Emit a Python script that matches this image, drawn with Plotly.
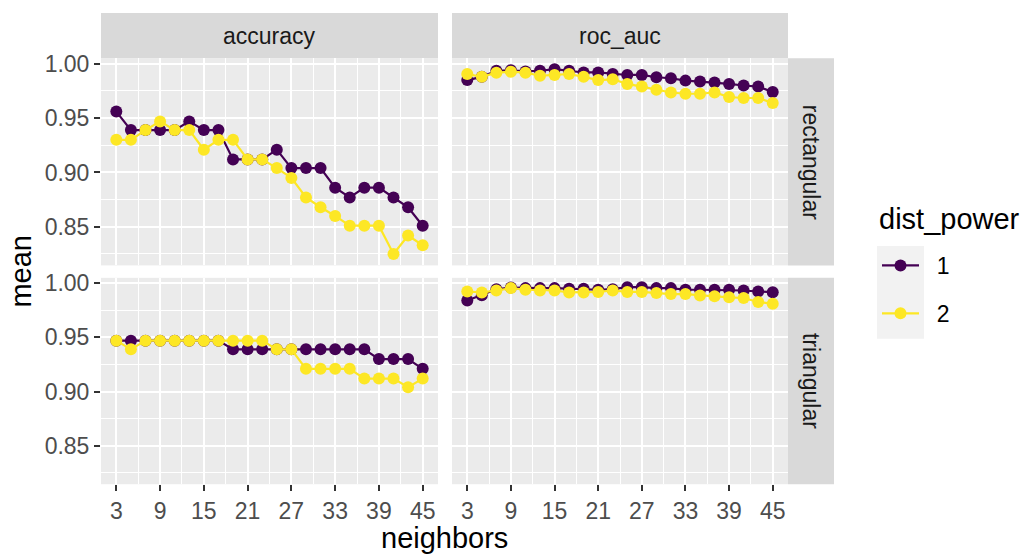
import plotly.graph_objects as go

W, H = 1022, 554

neighbors = [3, 5, 7, 9, 11, 13, 15, 17, 19, 21, 23, 25, 27, 29, 31, 33, 35, 37, 39, 41, 43, 45]

acc_rect_p1 = [0.956, 0.939, 0.939, 0.939, 0.939, 0.947, 0.939, 0.939, 0.912, 0.912, 0.912,
               0.921, 0.904, 0.904, 0.904, 0.886, 0.877, 0.886, 0.886, 0.877, 0.868, 0.851]
acc_rect_p2 = [0.930, 0.930, 0.939, 0.947, 0.939, 0.939, 0.921, 0.930, 0.930, 0.912, 0.912,
               0.904, 0.895, 0.877, 0.868, 0.860, 0.851, 0.851, 0.851, 0.825, 0.842, 0.833]
acc_tri_p1 = [0.947, 0.947, 0.947, 0.947, 0.947, 0.947, 0.947, 0.947, 0.939, 0.939, 0.939,
              0.939, 0.939, 0.939, 0.939, 0.939, 0.939, 0.939, 0.930, 0.930, 0.930, 0.921]
acc_tri_p2 = [0.947, 0.939, 0.947, 0.947, 0.947, 0.947, 0.947, 0.947, 0.947, 0.947, 0.947,
              0.939, 0.939, 0.921, 0.921, 0.921, 0.921, 0.912, 0.912, 0.912, 0.904, 0.912]
roc_rect_p1 = [0.985, 0.988, 0.9936, 0.994, 0.993, 0.9936, 0.995, 0.9936, 0.992, 0.992, 0.9906,
               0.9897, 0.9897, 0.9876, 0.9867, 0.9845, 0.9836, 0.9827, 0.9815, 0.980, 0.979, 0.974]
roc_rect_p2 = [0.9906, 0.988, 0.9918, 0.9927, 0.9918, 0.989, 0.9897, 0.9906, 0.988, 0.985, 0.9857,
               0.9815, 0.979, 0.976, 0.9736, 0.9724, 0.9724, 0.9736, 0.9694, 0.9685, 0.9685, 0.964]
roc_tri_p1 = [0.984, 0.989, 0.9945, 0.996, 0.9955, 0.9955, 0.9955, 0.995, 0.995, 0.994, 0.9945,
              0.9964, 0.9964, 0.9955, 0.9955, 0.994, 0.994, 0.994, 0.994, 0.9933, 0.9924, 0.9918]
roc_tri_p2 = [0.9924, 0.9915, 0.9933, 0.9955, 0.994, 0.9933, 0.9933, 0.9915, 0.9915, 0.992, 0.9933,
              0.992, 0.992, 0.9909, 0.990, 0.990, 0.9888, 0.9879, 0.987, 0.9864, 0.9827, 0.981]

metrics = ["accuracy", "roc_auc"]
weight_funcs = ["rectangular", "triangular"]
dist_powers = ["1", "2"]
colors = {"1": "#440154", "2": "#FDE725"}

x_ticks = [3, 9, 15, 21, 27, 33, 39, 45]
x_minor = [0, 6, 12, 18, 24, 30, 36, 42, 48]
y_ticks = [0.85, 0.90, 0.95, 1.00]
y_labels = ["0.85", "0.90", "0.95", "1.00"]
y_minor = [0.825, 0.875, 0.925, 0.975]

data = {
    ("accuracy", "rectangular"): {"1": acc_rect_p1, "2": acc_rect_p2},
    ("accuracy", "triangular"): {"1": acc_tri_p1, "2": acc_tri_p2},
    ("roc_auc", "rectangular"): {"1": roc_rect_p1, "2": roc_rect_p2},
    ("roc_auc", "triangular"): {"1": roc_tri_p1, "2": roc_tri_p2},
}

FONT = "Liberation Sans, Arial, Helvetica, sans-serif"

def px_x(p):
    return p / W

def px_y(p):
    return 1 - p / H

col_px = [(101, 438), (452, 788)]
row_px = [(52, 261.7), (274.3, 483.3)]

fig = go.Figure()
layout = dict()
idx = 0
for r, wf in enumerate(weight_funcs):
    for c, m in enumerate(metrics):
        idx += 1
        xa = "x" if idx == 1 else f"x{idx}"
        ya = "y" if idx == 1 else f"y{idx}"
        for dp in dist_powers:
            fig.add_trace(go.Scatter(
                x=neighbors, y=data[(m, wf)][dp], xaxis=xa, yaxis=ya,
                mode="lines+markers", name="\u00a0\u00a0" + dp, legendgroup=dp,
                showlegend=(idx == 1),
                line=dict(color=colors[dp], width=2.2),
                marker=dict(color=colors[dp], size=12, line=dict(width=0)),
            ))
        xkey = "xaxis" if idx == 1 else f"xaxis{idx}"
        ykey = "yaxis" if idx == 1 else f"yaxis{idx}"
        layout[xkey] = dict(
            domain=[px_x(col_px[c][0]), px_x(col_px[c][1])],
            anchor=ya, range=[0.9, 47.1], tickvals=x_ticks,
            ticktext=[str(t) for t in x_ticks],
            showticklabels=(r == 1), ticks="outside" if r == 1 else "",
            ticklen=6, tickwidth=2, tickcolor="#333333",
            tickfont=dict(size=23, color="#4D4D4D", family=FONT),
            showgrid=True, gridcolor="white", gridwidth=2, zeroline=False,
            showline=False, fixedrange=True,
            minor=dict(tickvals=x_minor, showgrid=True, gridcolor="white", gridwidth=1, ticks=""),
        )
        layout[ykey] = dict(
            domain=[px_y(row_px[r][1]), px_y(row_px[r][0])],
            anchor=xa, range=[0.8145, 1.005], tickvals=y_ticks, ticktext=y_labels,
            showticklabels=(c == 0), ticks="outside" if c == 0 else "",
            ticklen=6, tickwidth=2, tickcolor="#333333",
            tickfont=dict(size=23, color="#4D4D4D", family=FONT),
            showgrid=True, gridcolor="white", gridwidth=2, zeroline=False,
            showline=False, fixedrange=True,
            minor=dict(tickvals=y_minor, showgrid=True, gridcolor="white", gridwidth=1, ticks=""),
        )

shapes = []
annotations = []
# top strips
for c, m in enumerate(metrics):
    x0, x1 = col_px[c]
    shapes.append(dict(type="rect", xref="paper", yref="paper",
                       x0=px_x(x0), x1=px_x(x1), y0=px_y(52), y1=px_y(6),
                       fillcolor="#D9D9D9", line=dict(width=0), layer="below"))
    annotations.append(dict(text=m, xref="paper", yref="paper",
                            x=px_x((x0 + x1) / 2), y=px_y(29), showarrow=False,
                            xanchor="center", yanchor="middle",
                            font=dict(size=23, color="#1A1A1A", family=FONT)))
# right strips
for r, wf in enumerate(weight_funcs):
    y0, y1 = row_px[r]
    shapes.append(dict(type="rect", xref="paper", yref="paper",
                       x0=px_x(788), x1=px_x(834), y0=px_y(y1), y1=px_y(y0),
                       fillcolor="#D9D9D9", line=dict(width=0), layer="below"))
    annotations.append(dict(text=wf, xref="paper", yref="paper",
                            x=px_x(811), y=px_y((y0 + y1) / 2), showarrow=False,
                            textangle=90, xanchor="center", yanchor="middle",
                            font=dict(size=23, color="#1A1A1A", family=FONT)))
# legend key background
shapes.append(dict(type="rect", xref="paper", yref="paper",
                   x0=px_x(877), x1=px_x(924), y0=px_y(336), y1=px_y(242),
                   fillcolor="#F2F2F2", line=dict(width=0), layer="below"))
# legend title
annotations.append(dict(text="dist_power", xref="paper", yref="paper",
                        x=px_x(877), y=px_y(215), showarrow=False,
                        xanchor="left", yanchor="middle",
                        font=dict(size=29, color="black", family=FONT)))
# axis titles
annotations.append(dict(text="neighbors", xref="paper", yref="paper",
                        x=px_x(444.5), y=px_y(538), showarrow=False,
                        xanchor="center", yanchor="middle",
                        font=dict(size=29, color="black", family=FONT)))
annotations.append(dict(text="mean", xref="paper", yref="paper",
                        x=px_x(21), y=px_y(268), showarrow=False, textangle=-90,
                        xanchor="center", yanchor="middle",
                        font=dict(size=29, color="black", family=FONT)))

fig.update_layout(
    width=W, height=H, margin=dict(l=0, r=0, t=0, b=0),
    paper_bgcolor="white", plot_bgcolor="#EBEBEB",
    font=dict(family=FONT),
    shapes=shapes, annotations=annotations,
    showlegend=True,
    legend=dict(
        x=px_x(877), y=px_y(240), xanchor="left", yanchor="top",
        font=dict(size=23, color="black", family=FONT),
        bgcolor="rgba(0,0,0,0)", tracegroupgap=15, itemwidth=37,
    ),
    **layout,
)

fig.write_html("out.html", config={"displayModeBar": False},
               post_script="document.body.style.margin='0';document.body.style.overflow='hidden';")
